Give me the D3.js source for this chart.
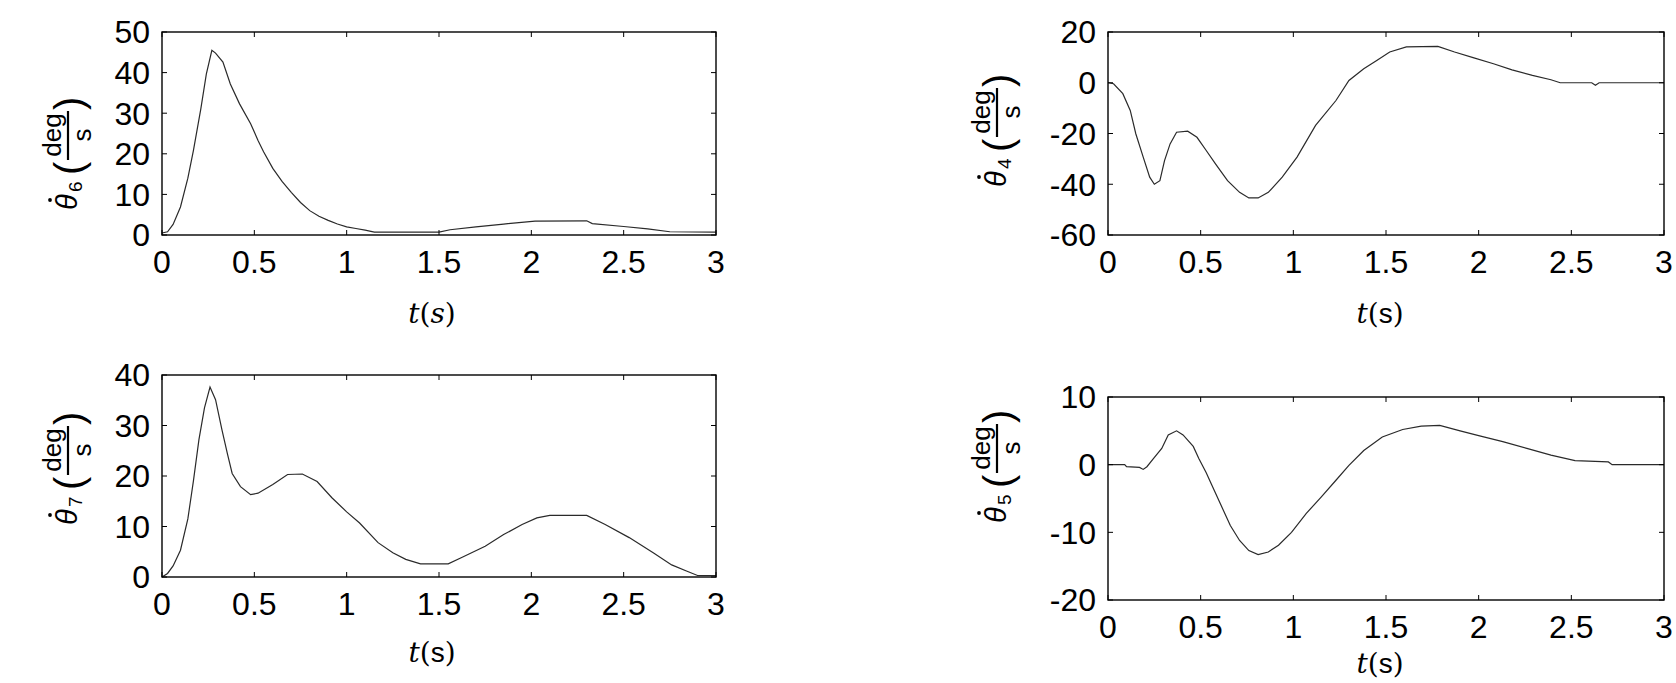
<!DOCTYPE html>
<html>
<head>
<meta charset="utf-8">
<script src="https://cdn.jsdelivr.net/npm/d3@7"></script>
<style>
  html, body { margin: 0; padding: 0; background: #fff; }
  svg { display: block; }
</style>
</head>
<body>
<svg id="chart" width="1676" height="683"></svg>
<script>
// ---------------- data ----------------
const xTicks = [0, 0.5, 1, 1.5, 2, 2.5, 3];
const xTickLabels = ["0", "0.5", "1", "1.5", "2", "2.5", "3"];

// theta6 dot (top-left)
const t6 = [0, 0.03, 0.06, 0.10, 0.14, 0.17, 0.21, 0.24, 0.27, 0.29, 0.33, 0.37, 0.42, 0.48, 0.52, 0.55, 0.60, 0.65, 0.70, 0.75, 0.80, 0.85, 0.90, 0.95, 1.00, 1.05, 1.10, 1.15, 1.50, 1.56, 1.70, 1.85, 2.02, 2.30, 2.33, 2.50, 2.63, 2.75, 3.00];
const w6 = [0.5, 0.8, 2.6, 6.9, 14, 20.8, 31, 39.6, 45.5, 44.8, 42.6, 37.2, 32.3, 27.4, 23.3, 20.5, 16.4, 13.2, 10.5, 8.0, 6.0, 4.6, 3.6, 2.7, 2.0, 1.6, 1.2, 0.7, 0.7, 1.3, 2.0, 2.7, 3.4, 3.5, 2.8, 2.1, 1.5, 0.8, 0.7];
const y6Ticks = [0, 10, 20, 30, 40, 50];

// theta7 dot (bottom-left)
const t7 = [0, 0.03, 0.06, 0.10, 0.14, 0.17, 0.20, 0.23, 0.26, 0.29, 0.325, 0.355, 0.38, 0.425, 0.48, 0.52, 0.60, 0.68, 0.76, 0.84, 0.92, 1.00, 1.07, 1.17, 1.25, 1.32, 1.40, 1.55, 1.62, 1.75, 1.85, 1.95, 2.03, 2.10, 2.30, 2.40, 2.53, 2.66, 2.76, 2.84, 2.90, 3.00];
const w7 = [0, 0.7, 2.2, 5.3, 11.5, 19, 27.2, 33.5, 37.6, 35.1, 29.1, 24.3, 20.5, 17.9, 16.3, 16.6, 18.3, 20.3, 20.4, 18.9, 15.7, 12.9, 10.7, 6.8, 4.8, 3.5, 2.6, 2.6, 3.8, 6.1, 8.4, 10.4, 11.7, 12.2, 12.2, 10.4, 7.8, 4.8, 2.4, 1.2, 0.3, 0.3];
const y7Ticks = [0, 10, 20, 30, 40];

// theta4 dot (top-right)
const t4 = [0, 0.03, 0.08, 0.12, 0.15, 0.19, 0.225, 0.25, 0.28, 0.305, 0.335, 0.37, 0.43, 0.48, 0.53, 0.58, 0.645, 0.71, 0.76, 0.81, 0.865, 0.94, 1.02, 1.12, 1.23, 1.30, 1.38, 1.45, 1.52, 1.61, 1.78, 1.87, 1.97, 2.08, 2.18, 2.29, 2.39, 2.44, 2.61, 2.63, 2.65, 3.00];
const w4 = [0, -0.4, -4.3, -10.9, -20.1, -29.3, -37.2, -40, -38.6, -30.7, -24.1, -19.5, -19.1, -21.5, -26.7, -32, -38.6, -43.2, -45.4, -45.4, -43.2, -37.2, -29.3, -16.8, -7, 0.9, 5.5, 8.8, 12.1, 14.1, 14.3, 12.1, 9.9, 7.5, 5.1, 2.9, 1.2, 0, 0, -1, 0, 0];
const y4Ticks = [-60, -40, -20, 0, 20];

// theta5 dot (bottom-right)
const t5 = [0, 0.09, 0.10, 0.17, 0.19, 0.21, 0.245, 0.29, 0.325, 0.37, 0.405, 0.46, 0.49, 0.53, 0.56, 0.61, 0.66, 0.71, 0.76, 0.81, 0.865, 0.92, 0.99, 1.07, 1.15, 1.23, 1.30, 1.38, 1.48, 1.59, 1.69, 1.79, 1.90, 2.00, 2.13, 2.26, 2.39, 2.52, 2.70, 2.72, 3.00];
const w5 = [0, 0, -0.3, -0.4, -0.7, -0.3, 0.9, 2.4, 4.4, 5, 4.4, 2.7, 0.9, -1.2, -3.0, -6.0, -9.0, -11.2, -12.7, -13.3, -12.9, -11.9, -10, -7.2, -4.8, -2.3, -0.1, 2.1, 4.1, 5.2, 5.7, 5.8, 5.0, 4.3, 3.4, 2.4, 1.4, 0.6, 0.4, 0, 0];
const y5Ticks = [-20, -10, 0, 10];

// ---------------- layout ----------------
const panels = [
  { t: t6, v: w6, yTicks: y6Ticks, sub: "6", italicS: true,
    x0: 162, x1: 716, y0: 32, y1: 235, lab: [77, 210], xl: [432, 314] },
  { t: t7, v: w7, yTicks: y7Ticks, sub: "7", italicS: false,
    x0: 162, x1: 716, y0: 375, y1: 577, lab: [77, 525], xl: [432, 653] },
  { t: t4, v: w4, yTicks: y4Ticks, sub: "4", italicS: false,
    x0: 1108, x1: 1664, y0: 32, y1: 235, lab: [1006, 187], xl: [1380, 314] },
  { t: t5, v: w5, yTicks: y5Ticks, sub: "5", italicS: false,
    x0: 1108, x1: 1664, y0: 397, y1: 600, lab: [1006, 523], xl: [1380, 664] }
];

const svg = d3.select("#chart");
const SANS = "'Liberation Sans', Arial, sans-serif";
const SERIF = "'DejaVu Serif', 'Liberation Serif', serif";
const FS = 32;

panels.forEach(p => {
  const x = d3.scaleLinear().domain([0, 3]).range([p.x0, p.x1]);
  const yd = d3.extent(p.yTicks);
  const y = d3.scaleLinear().domain(yd).range([p.y1, p.y0]);
  const g = svg.append("g");

  // data line
  const pts = p.t.map((tt, i) => [tt, p.v[i]]);
  g.append("path")
    .datum(pts)
    .attr("fill", "none")
    .attr("stroke", "#2a2a2a")
    .attr("stroke-width", 1.2)
    .attr("d", d3.line().x(d => x(d[0])).y(d => y(d[1])));

  // ticks (inward, all four sides)
  const TL = 5;
  xTicks.forEach(v => {
    g.append("line").attr("x1", x(v)).attr("x2", x(v)).attr("y1", p.y1).attr("y2", p.y1 - TL)
      .attr("stroke", "#000").attr("stroke-width", 1);
    g.append("line").attr("x1", x(v)).attr("x2", x(v)).attr("y1", p.y0).attr("y2", p.y0 + TL)
      .attr("stroke", "#000").attr("stroke-width", 1);
  });
  p.yTicks.forEach(v => {
    g.append("line").attr("x1", p.x0).attr("x2", p.x0 + TL).attr("y1", y(v)).attr("y2", y(v))
      .attr("stroke", "#000").attr("stroke-width", 1);
    g.append("line").attr("x1", p.x1).attr("x2", p.x1 - TL).attr("y1", y(v)).attr("y2", y(v))
      .attr("stroke", "#000").attr("stroke-width", 1);
  });

  // frame
  g.append("rect").attr("x", p.x0).attr("y", p.y0)
    .attr("width", p.x1 - p.x0).attr("height", p.y1 - p.y0)
    .attr("fill", "none").attr("stroke", "#000").attr("stroke-width", 1.4);

  // tick labels
  xTicks.forEach((v, i) => {
    g.append("text").attr("x", x(v)).attr("y", p.y1 + 27 + 0.358 * FS)
      .attr("text-anchor", "middle").attr("font-family", SANS).attr("font-size", FS)
      .attr("fill", "#000").text(xTickLabels[i]);
  });
  p.yTicks.forEach(v => {
    g.append("text").attr("x", p.x0 - 12).attr("y", y(v) + 0.358 * FS)
      .attr("text-anchor", "end").attr("font-family", SANS).attr("font-size", FS)
      .attr("fill", "#000").text(String(v));
  });

  // x axis title  t(s)
  const xt = g.append("text").attr("x", p.xl[0]).attr("y", p.xl[1] + 9)
    .attr("text-anchor", "middle").attr("font-family", SERIF).attr("font-size", 28).attr("fill", "#000");
  xt.append("tspan").attr("font-style", "italic").text("t");
  xt.append("tspan").text("(");
  xt.append("tspan").attr("font-style", p.italicS ? "italic" : "normal")
    .attr("font-family", p.italicS ? SERIF : SANS).text("s");
  xt.append("tspan").text(")");

  // y axis title  θ̇_n ( deg / s ), rotated
  const lg = g.append("g").attr("transform", `translate(${p.lab[0]},${p.lab[1]}) rotate(-90)`);
  lg.append("text").attr("x", 0).attr("y", 0)
    .attr("font-family", SANS).attr("font-style", "italic").attr("font-size", 29)
    .attr("fill", "#000").text("θ");
  lg.append("circle").attr("cx", 10).attr("cy", -27).attr("r", 1.9).attr("fill", "#000");
  lg.append("text").attr("x", 18).attr("y", 5)
    .attr("font-family", SANS).attr("font-size", 19).attr("fill", "#000").text(p.sub);
  lg.append("text").attr("x", 35).attr("y", 6)
    .attr("font-family", SANS).attr("font-size", 40).attr("fill", "#000").text("(");
  lg.append("line").attr("x1", 50).attr("x2", 99).attr("y1", -9).attr("y2", -9)
    .attr("stroke", "#000").attr("stroke-width", 2.2);
  lg.append("text").attr("x", 75).attr("y", -16).attr("text-anchor", "middle")
    .attr("font-family", SANS).attr("font-size", 26).attr("fill", "#000").text("deg");
  lg.append("text").attr("x", 75).attr("y", 14).attr("text-anchor", "middle")
    .attr("font-family", SANS).attr("font-size", 26).attr("fill", "#000").text("s");
  lg.append("text").attr("x", 100).attr("y", 6)
    .attr("font-family", SANS).attr("font-size", 40).attr("fill", "#000").text(")");
});
</script>
</body>
</html>
